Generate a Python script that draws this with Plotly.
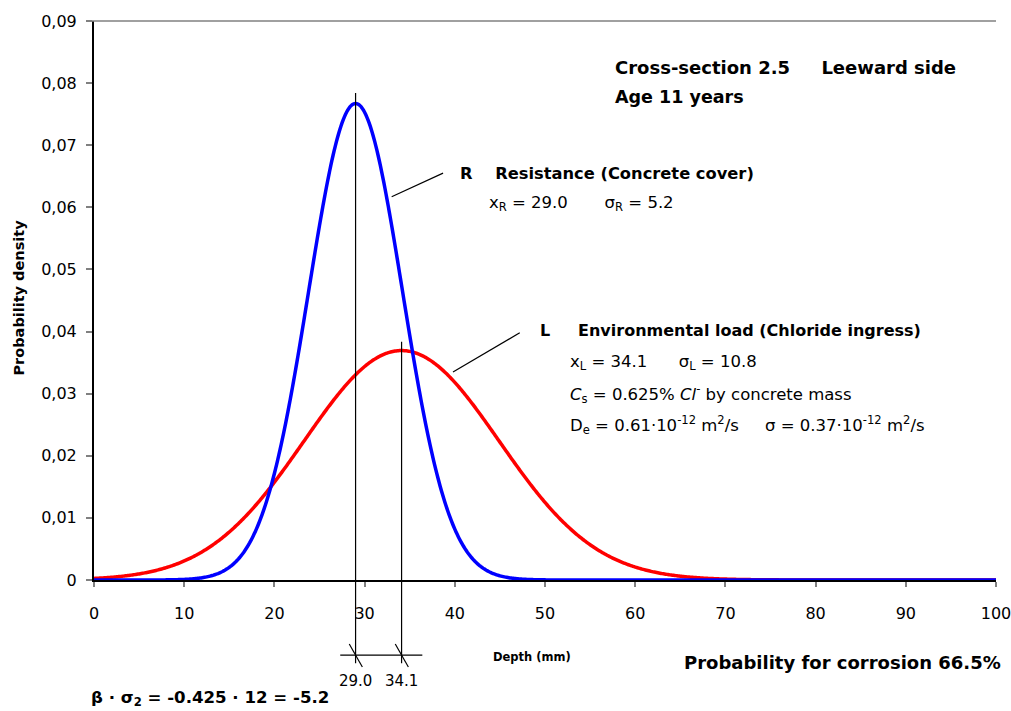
import numpy as np
import plotly.graph_objects as go

# Distribution parameters (mm)
mean_R, sd_R = 29.0, 5.2      # resistance: concrete cover
mean_L, sd_L = 34.1, 10.8     # environmental load: chloride ingress depth

depth_ticks = [0, 10, 20, 30, 40, 50, 60, 70, 80, 90, 100]
density_ticks = [0, 0.01, 0.02, 0.03, 0.04, 0.05, 0.06, 0.07, 0.08, 0.09]
density_tick_labels = ["0", "0,01", "0,02", "0,03", "0,04", "0,05", "0,06", "0,07", "0,08", "0,09"]

X_RANGE = [0, 100]
Y_RANGE = [0, 0.09]

TEXTFONT = "DejaVu Sans, Verdana, sans-serif"
TICKFONT = "DejaVu Sans, Verdana, sans-serif"
SP = "\u00a0"


def gap(n):
    return SP * n


def normal_pdf(x, mu, sigma):
    return np.exp(-0.5 * ((x - mu) / sigma) ** 2) / (sigma * np.sqrt(2 * np.pi))


depth = np.linspace(X_RANGE[0], X_RANGE[1], 801)
dens_R = normal_pdf(depth, mean_R, sd_R)
dens_L = normal_pdf(depth, mean_L, sd_L)


def xp(x):
    return (x - X_RANGE[0]) / (X_RANGE[1] - X_RANGE[0])


def yp(y):
    return (y - Y_RANGE[0]) / (Y_RANGE[1] - Y_RANGE[0])


fig = go.Figure()
fig.add_trace(go.Scatter(x=depth, y=dens_L, mode="lines",
                         line=dict(color="#ff0000", width=3.5, simplify=False), name="L"))
fig.add_trace(go.Scatter(x=depth, y=dens_R, mode="lines",
                         line=dict(color="#0000ff", width=3.5, simplify=False), name="R"))

shapes = []
black = dict(color="black", width=1.2)

# top gridline
shapes.append(dict(type="line", xref="paper", yref="paper", x0=-0.007, x1=1,
                   y0=yp(0.09), y1=yp(0.09), line=dict(color="#808080", width=1.5)))

# mean markers dropping below the axis
peak_R = normal_pdf(mean_R, mean_R, sd_R)
peak_L = normal_pdf(mean_L, mean_L, sd_L)
y_low = -0.0134
for mu, top in [(mean_R, peak_R + 0.0017), (mean_L, peak_L + 0.0014)]:
    shapes.append(dict(type="line", xref="paper", yref="paper", x0=xp(mu), x1=xp(mu),
                       y0=yp(y_low), y1=yp(top), line=black))
    shapes.append(dict(type="line", xref="paper", yref="paper",
                       x0=xp(mu - 0.7), x1=xp(mu + 0.75),
                       y0=yp(-0.0103), y1=yp(-0.0140), line=black))
y_dim = -0.0121
shapes.append(dict(type="line", xref="paper", yref="paper",
                   x0=xp(mean_R - 1.7), x1=xp(mean_L + 2.3),
                   y0=yp(y_dim), y1=yp(y_dim), line=black))

# leader lines to the labels
shapes.append(dict(type="line", xref="x", yref="y", x0=33.0, y0=0.0617, x1=38.7, y1=0.0655,
                   line=black))
shapes.append(dict(type="line", xref="x", yref="y", x0=39.8, y0=0.0335, x1=47.2, y1=0.0398,
                   line=black))

annotations = []


def note(x, y, text, size=16, bold=False, anchor="left", ref="data", angle=0, family=TEXTFONT):
    annotations.append(dict(
        x=x, y=y,
        xref="x" if ref == "data" else "paper", yref="y" if ref == "data" else "paper",
        text=f"<b>{text}</b>" if bold else text, showarrow=False,
        xanchor=anchor, yanchor="middle", textangle=angle,
        font=dict(family=family, size=size, color="black")))


note(57.5, 0.0825, f"Cross-section 2.5{gap(5)}Leeward side", size=18, bold=True)
note(57.5, 0.0777, "Age 11 years", size=17.5, bold=True)
note(40.3, 0.0655, f"R{gap(4)}Resistance (Concrete cover)", size=16.3, bold=True)
note(43.6, 0.0606, f"x<sub>R</sub> = 29.0{gap(7)}σ<sub>R</sub> = 5.2", size=16.5)
note(49.2, 0.0402, f"L{gap(5)}Environmental load (Chloride ingress)", size=16, bold=True)
note(52.5, 0.0350, f"x<sub>L</sub> = 34.1{gap(6)}σ<sub>L</sub> = 10.8", size=16.5)
note(52.5, 0.0300, "<i>C</i><sub>s</sub> = 0.625% <i>Cl</i><sup>-</sup> by concrete mass", size=16.5)
note(52.5, 0.0249,
     f"D<sub>e</sub> = 0.61·10<sup>-12</sup> m<sup>2</sup>/s{gap(5)}σ = 0.37·10<sup>-12</sup> m<sup>2</sup>/s",
     size=16.5)

# below-axis labels
note(xp(48.6), yp(-0.0124), "Depth (mm)", size=11.5, bold=True, anchor="center", ref="paper")
note(xp(mean_R), yp(-0.0163), f"{mean_R:.1f}", size=15, anchor="center", ref="paper",
     family=TICKFONT)
note(xp(mean_L), yp(-0.0163), f"{mean_L:.1f}", size=15, anchor="center", ref="paper",
     family=TICKFONT)
note(1.008, yp(-0.0133), "Probability for corrosion 66.5%", size=18, bold=True,
     anchor="right", ref="paper")
note(-0.005, yp(-0.0190), "β · σ<sub>2</sub> = -0.425 · 12 = -5.2", size=16.6, bold=True,
     ref="paper")
note(-0.083, yp(0.0455), "Probability density", size=14.5, bold=True, anchor="center",
     ref="paper", angle=-90)

fig.update_layout(
    width=1011, height=711,
    margin=dict(l=94, r=15, t=21, b=131, autoexpand=False),
    paper_bgcolor="white", plot_bgcolor="white",
    showlegend=False,
    shapes=shapes, annotations=annotations,
    xaxis=dict(range=X_RANGE, tickvals=depth_ticks, ticktext=[str(v) for v in depth_ticks],
               showgrid=False, zeroline=False, showline=True, linecolor="black", linewidth=2,
               ticks="outside", ticklen=5, tickcolor="#808080", tickwidth=1.5,
               ticklabelstandoff=13, ticklabeloverflow="allow",
               tickfont=dict(family=TICKFONT, size=16, color="black")),
    yaxis=dict(range=Y_RANGE, tickvals=density_ticks, ticktext=density_tick_labels,
               showgrid=False, zeroline=False, showline=True, linecolor="black", linewidth=2,
               ticks="outside", ticklen=6, tickcolor="#808080", tickwidth=1.5,
               ticklabelstandoff=6,
               tickfont=dict(family=TICKFONT, size=16, color="black")),
)

fig.write_html("out.html")
